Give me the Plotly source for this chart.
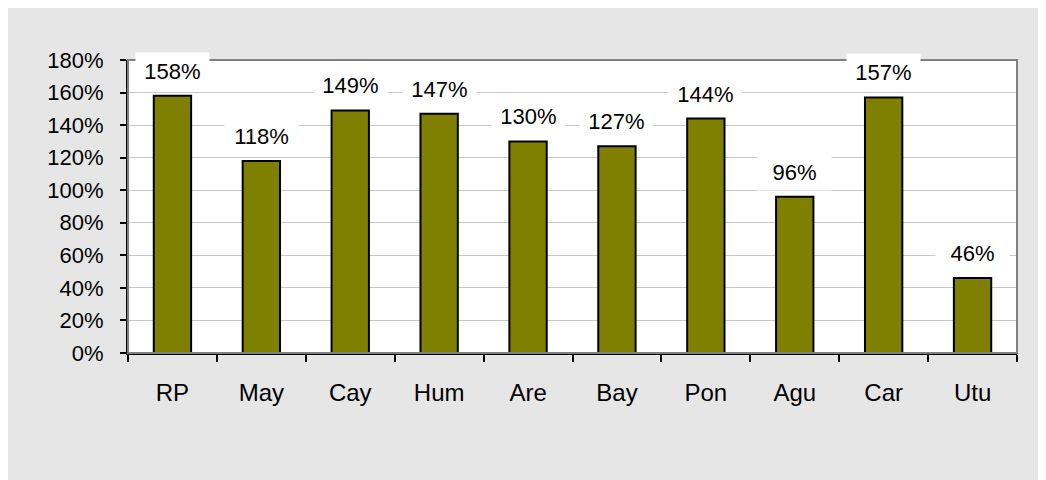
import plotly.graph_objects as go

categories = ["RP", "May", "Cay", "Hum", "Are", "Bay", "Pon", "Agu", "Car", "Utu"]
values = [1.58, 1.18, 1.49, 1.47, 1.30, 1.27, 1.44, 0.96, 1.57, 0.46]
y_ticks = [0, 0.2, 0.4, 0.6, 0.8, 1.0, 1.2, 1.4, 1.6, 1.8]
y_tick_labels = [f"{int(round(v*100))}%" for v in y_ticks]

FONT = "Liberation Sans, Arial, sans-serif"
FS = 22
FS_X = 24

fig = go.Figure()
fig.add_trace(go.Bar(
    x=categories, y=values,
    marker=dict(color="#808000", line=dict(color="black", width=2)),
    width=0.42,
    hoverinfo="skip",
))

annotations = []
for c, v in zip(categories, values):
    annotations.append(dict(
        x=c, y=v, xref="x", yref="y",
        text=f"{int(round(v*100))}%",
        showarrow=False, yanchor="bottom", yshift=6,
        bgcolor="white", borderpad=7, width=59, height=22,
        font=dict(family=FONT, size=FS, color="black"),
    ))

shapes = [
    dict(type="rect", xref="paper", yref="paper", layer="above",
         x0=0, x1=1, y0=0, y1=1, line=dict(color="#808080", width=2),
         fillcolor="rgba(0,0,0,0)"),
]

fig.update_layout(
    width=1038, height=472,
    margin=dict(l=120, r=29, t=52, b=127, pad=0),
    paper_bgcolor="#e6e6e6", plot_bgcolor="white",
    showlegend=False,
    annotations=annotations,
    shapes=shapes,
    font=dict(family=FONT, size=FS, color="black"),
)
fig.update_xaxes(
    type="category", tickson="boundaries",
    ticks="outside", ticklen=7, tickwidth=1.5, tickcolor="black",
    showline=True, linecolor="black", linewidth=2,
    showgrid=False, ticklabelstandoff=17,
    tickfont=dict(family=FONT, size=FS_X, color="black"),
)
fig.update_yaxes(
    range=[0, 1.8], tickvals=y_ticks, ticktext=y_tick_labels,
    ticks="outside", ticklen=6, tickwidth=1.5, tickcolor="black",
    showline=True, linecolor="black", linewidth=2,
    showgrid=True, gridcolor="#c8c8c8", gridwidth=1,
    zeroline=False, ticklabelstandoff=12,
    tickfont=dict(family=FONT, size=FS, color="black"),
)

fig.write_html("out.html")
